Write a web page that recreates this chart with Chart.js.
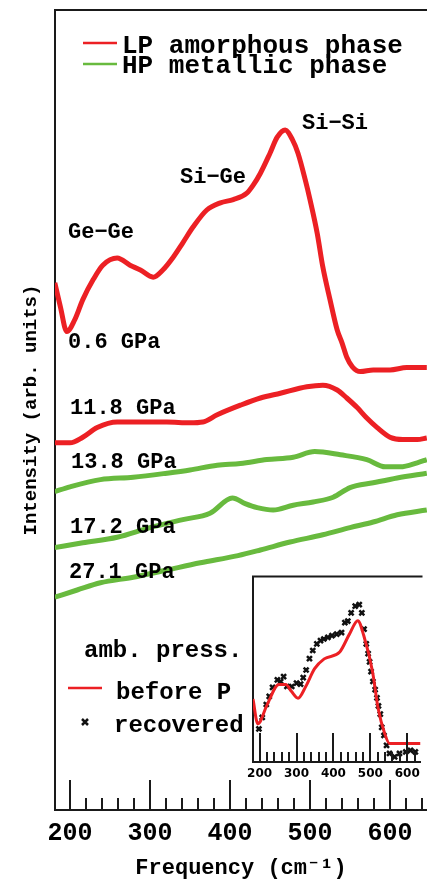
<!DOCTYPE html>
<html>
<head>
<meta charset="utf-8">
<script src="https://cdn.jsdelivr.net/npm/chart.js@4.4.1/dist/chart.umd.min.js"></script>
<style>
  html, body { margin: 0; padding: 0; background: #fff; }
  #wrap { position: relative; width: 427px; height: 879px; overflow: hidden; }
  #main { position: absolute; left: 0; top: 0; }
  #inset { position: absolute; left: 240px; top: 570px; }
</style>
</head>
<body>
<div id="wrap">
  <canvas id="main" width="427" height="879"></canvas>
  <canvas id="inset" width="187" height="215"></canvas>
</div>
<script>
// Raman spectra, frequency in cm^-1, intensity in arbitrary units (0-100 frame)
const freq06  = [181,188,196,206,216,229,241,259,275,288,304,316,329,341,354,371,388,404,421,429,438,450,459,469,478,485,494,500,509,516,525,534,540,546,553,563,579,600,621,646];
const int06   = [65.9,62.9,59.8,61.3,63.8,66.3,68.1,69.0,68.1,67.5,66.6,67.5,69.1,70.9,72.9,75.0,75.9,76.3,77.1,78.1,79.6,82.1,84.1,85.0,83.8,82.1,78.8,76.3,72.1,67.9,63.8,60.0,58.4,56.6,55.4,54.8,55.0,55.0,55.3,55.3];

const freq118 = [181,200,216,234,259,291,321,350,366,384,413,438,463,496,516,534,546,559,571,584,600,616,634,646];
const int118  = [45.9,45.9,46.6,47.8,48.5,48.5,48.5,48.4,48.5,49.4,50.6,51.5,52.1,52.9,53.1,52.5,51.5,50.3,49.0,47.8,46.6,46.3,46.3,46.5];

const freq138 = [181,200,238,279,321,350,384,413,446,479,506,538,571,594,613,634,646];
const int138  = [39.8,40.4,41.3,41.6,42.1,42.5,43.1,43.3,43.8,44.1,44.8,44.4,43.8,42.9,42.9,43.4,43.8];

const freq172 = [181,216,259,300,341,375,403,419,434,454,479,504,529,550,579,609,646];
const int172  = [32.8,33.4,34.1,35.3,36.3,37.1,39.0,38.3,37.8,37.5,38.1,38.5,39.1,40.3,40.9,41.5,42.1];

const freq271 = [181,209,238,279,321,363,410,438,475,516,550,579,609,646];
const int271  = [26.6,27.5,28.4,29.1,30.0,30.9,31.8,32.5,33.5,34.4,35.3,36.0,36.9,37.5];

// inset: ambient pressure, before compression and recovered
const freqBefore = [182,195,221,252,271,286,304,325,349,375,417,443,466,482,506,521,539,552,592,636];
const intBefore  = [33.9,20.6,31.2,41.8,41.8,38.1,34.4,40.7,50.3,55.6,59.3,68.8,76.2,68.3,48.7,29.1,15.3,10.0,10.0,10.0];

const freqRecov = [198,207,218,226,235,248,257,265,274,287,300,311,318,326,335,344,355,365,374,385,396,409,422,431,439,448,459,470,477,483,489,494,498,502,507,513,518,522,527,531,537,544,552,566,579,596,609,622];
const intRecov  = [17.8,24.0,31.0,35.4,40.2,44.3,43.4,46.0,40.7,40.7,42.5,42.0,45.5,49.6,55.7,60.1,63.7,65.4,66.3,67.2,68.1,68.9,69.8,75.1,76.0,80.4,84.0,84.8,80.4,71.6,63.7,58.4,54.0,48.7,43.4,39.0,34.6,30.2,25.8,18.7,14.3,9.0,4.6,2.8,4.6,5.4,6.3,5.4];

const xTickLabels = [200, 300, 400, 500, 600];
const pressureLabels = ['0.6 GPa', '11.8 GPa', '13.8 GPa', '17.2 GPa', '27.1 GPa'];

const RED = 'rgb(236,32,36)';
const GREEN = 'rgb(104,186,62)';
const FRAME = '#1a1a1a';
const MONO = '"Liberation Mono", "DejaVu Sans Mono", monospace';

const toPoints = (xs, ys) => xs.map((x, i) => ({ x: x, y: ys[i] }));

function curve(xs, ys, color, width) {
  return {
    data: toPoints(xs, ys),
    borderColor: color,
    borderWidth: width,
    pointRadius: 0,
    fill: false,
    cubicInterpolationMode: 'monotone'
  };
}

// ticks pointing into the plot, drawn from the x scale
function inwardTicks(chart, majLen, minLen, stop) {
  const { ctx, chartArea, scales: { x } } = chart;
  ctx.save();
  ctx.strokeStyle = FRAME;
  ctx.lineWidth = 2;
  for (let v = 200; v <= stop; v += 20) {
    const px = Math.round(x.getPixelForValue(v));
    const len = xTickLabels.includes(v) ? majLen : minLen;
    ctx.beginPath();
    ctx.moveTo(px, chartArea.bottom);
    ctx.lineTo(px, chartArea.bottom - len);
    ctx.stroke();
  }
  // top frame line
  ctx.beginPath();
  ctx.moveTo(chartArea.left - 1, chartArea.top);
  ctx.lineTo(chartArea.right + 2, chartArea.top);
  ctx.stroke();
  ctx.restore();
}

const mainDecor = {
  id: 'mainDecor',
  afterDraw(chart) {
    const ctx = chart.ctx;
    inwardTicks(chart, 30, 12, 640);
    ctx.save();
    ctx.fillStyle = '#000';
    ctx.textBaseline = 'alphabetic';

    // top legend
    ctx.font = 'bold 26px ' + MONO;
    ctx.lineWidth = 2.5;
    ctx.strokeStyle = RED;
    ctx.beginPath(); ctx.moveTo(83, 43); ctx.lineTo(117, 43); ctx.stroke();
    ctx.fillText('LP amorphous phase', 122, 53);
    ctx.strokeStyle = GREEN;
    ctx.beginPath(); ctx.moveTo(83, 64); ctx.lineTo(117, 64); ctx.stroke();
    ctx.fillText('HP metallic phase', 122, 73);

    // bond assignments
    ctx.font = 'bold 22px ' + MONO;
    ctx.fillText('Ge\u2212Ge', 68, 238);
    ctx.fillText('Si\u2212Ge', 180, 183);
    ctx.fillText('Si\u2212Si', 302, 129);

    // pressures
    const labelPos = [[68, 348], [70, 414], [71, 468], [70, 533], [69, 578]];
    pressureLabels.forEach((t, i) => ctx.fillText(t, labelPos[i][0], labelPos[i][1]));

    // inset legend
    ctx.font = 'bold 24px ' + MONO;
    ctx.fillText('amb. press.', 84, 657);
    ctx.fillText('before P', 116, 699);
    ctx.fillText('recovered', 114, 732);
    ctx.strokeStyle = RED;
    ctx.lineWidth = 2.5;
    ctx.beginPath(); ctx.moveTo(68, 688); ctx.lineTo(102, 688); ctx.stroke();
    ctx.strokeStyle = '#111';
    ctx.lineWidth = 2.5;
    ctx.beginPath();
    ctx.moveTo(82, 719); ctx.lineTo(88, 725);
    ctx.moveTo(88, 719); ctx.lineTo(82, 725);
    ctx.stroke();
    ctx.restore();
  }
};

const insetDecor = {
  id: 'insetDecor',
  beforeDraw(chart) {
    const { ctx, chartArea } = chart;
    ctx.save();
    ctx.fillStyle = '#fff';
    ctx.fillRect(chartArea.left, chartArea.top, chartArea.right - chartArea.left, chartArea.bottom - chartArea.top);
    ctx.restore();
  },
  afterDraw(chart) {
    inwardTicks(chart, 29, 10, 620);
  }
};

new Chart(document.getElementById('main'), {
  type: 'line',
  data: {
    datasets: [
      curve(freq06, int06, RED, 5),
      curve(freq118, int118, RED, 5),
      curve(freq138, int138, GREEN, 5),
      curve(freq172, int172, GREEN, 5),
      curve(freq271, int271, GREEN, 5)
    ]
  },
  options: {
    responsive: false,
    animation: false,
    layout: { padding: { left: 20, top: 10, right: 0, bottom: -1.4 } },
    plugins: { legend: { display: false }, tooltip: { enabled: false } },
    scales: {
      x: {
        type: 'linear',
        min: 181.25,
        max: 646.25,
        afterBuildTicks: s => { s.ticks = xTickLabels.map(v => ({ value: v })); },
        grid: { display: false, drawTicks: false },
        border: { display: true, color: FRAME, width: 2 },
        ticks: { color: '#000', autoSkip: false, maxRotation: 0, padding: 9,
                 font: { family: MONO, size: 25, weight: 'bold' } },
        title: { display: true, text: 'Frequency (cm\u207B\u00B9)', color: '#000',
                 font: { family: MONO, size: 22, weight: 'bold' }, padding: { top: -3, bottom: -1 } }
      },
      y: {
        min: 0,
        max: 100,
        grid: { display: false, drawTicks: false },
        border: { display: true, color: FRAME, width: 2 },
        ticks: { display: false },
        title: { display: true, text: 'Intensity (arb. units)', color: '#000',
                 font: { family: MONO, size: 19, weight: 'bold' }, padding: { top: 0, bottom: 12.2 } }
      }
    }
  },
  plugins: [mainDecor]
});

new Chart(document.getElementById('inset'), {
  type: 'line',
  data: {
    datasets: [
      curve(freqBefore, intBefore, RED, 3),
      {
        data: toPoints(freqRecov, intRecov),
        showLine: false,
        pointStyle: 'crossRot',
        pointRadius: 3.5,
        pointBorderWidth: 2.5,
        pointBorderColor: '#111',
        borderColor: '#111'
      }
    ]
  },
  options: {
    responsive: false,
    animation: false,
    layout: { padding: { left: 13, top: 3, right: 0, bottom: -1.4 } },
    plugins: { legend: { display: false }, tooltip: { enabled: false } },
    scales: {
      x: {
        type: 'linear',
        min: 182,
        max: 636,
        afterBuildTicks: s => { s.ticks = xTickLabels.map(v => ({ value: v })); },
        grid: { display: false, drawTicks: false },
        border: { display: true, color: FRAME, width: 2 },
        ticks: { color: '#000', autoSkip: false, maxRotation: 0, padding: 5,
                 font: { family: '"DejaVu Sans", sans-serif', size: 12, weight: 'bold' } }
      },
      y: {
        min: 0,
        max: 100,
        grid: { display: false, drawTicks: false },
        border: { display: true, color: FRAME, width: 2 },
        ticks: { display: false }
      }
    }
  },
  plugins: [insetDecor]
});
</script>
</body>
</html>
